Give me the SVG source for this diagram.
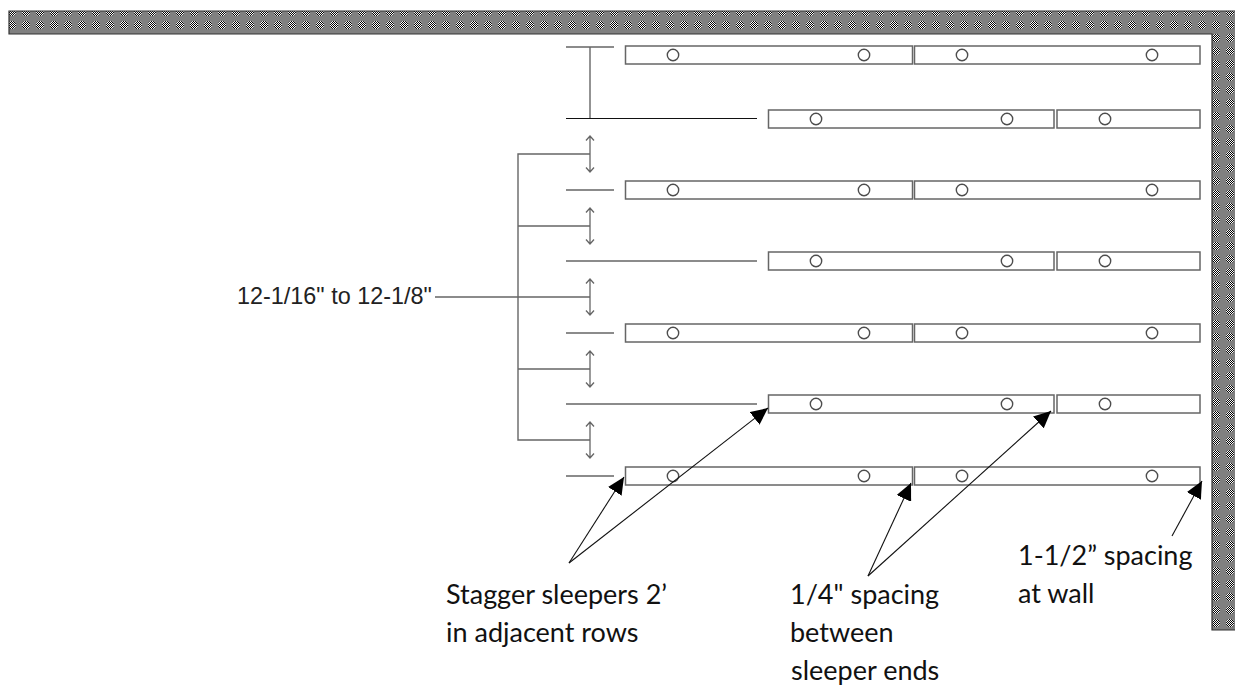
<svg xmlns="http://www.w3.org/2000/svg" width="1235" height="686" viewBox="0 0 1235 686">
<style>
.s{fill:#fff;stroke:#666;stroke-width:1.5}
.h{fill:#fff;stroke:#4d4d4d;stroke-width:1.4}
.g{fill:none;stroke:#666;stroke-width:1.4}
.k{fill:none;stroke:#111;stroke-width:1.1}
.o{fill:none;stroke:#666;stroke-width:1.3}
.c{font-family:Lato,"Open Sans",sans-serif;font-size:27px;fill:#111}
.a{font-family:"Liberation Sans",Arial,sans-serif;font-size:23.4px;fill:#222}
</style>
<defs>
<pattern id="chk" width="2" height="2" patternUnits="userSpaceOnUse"><rect width="2" height="2" fill="#000"/><rect width="1" height="1" fill="#fff"/><rect x="1" y="1" width="1" height="1" fill="#fff"/></pattern>
<pattern id="wall" x="5" y="5" width="14" height="13" patternUnits="userSpaceOnUse"><rect width="14" height="13" fill="#808080"/><circle cx="7" cy="7" r="4" fill="url(#chk)"/></pattern>
<marker id="tip" markerUnits="userSpaceOnUse" markerWidth="18" markerHeight="16" refX="17" refY="8" orient="auto"><path d="M0 0L17 8L0 16Z" fill="#000"/></marker>
<g id="dbl"><path class="o" d="M0 0V36M-4 4.500L0 0L4 4.500M-4 31.500L0 36L4 31.500"/></g>
<g id="A"><rect class="s" x="625.500" y="-9" width="287" height="18"/><rect class="s" x="914.500" y="-9" width="285.500" height="18"/><circle class="h" cx="673" r="5.700"/><circle class="h" cx="864" r="5.700"/><circle class="h" cx="962" r="5.700"/><circle class="h" cx="1152" r="5.700"/></g>
<g id="B"><rect class="s" x="768.500" y="-9" width="285.500" height="18"/><rect class="s" x="1057" y="-9" width="143" height="18"/><circle class="h" cx="816" r="5.700"/><circle class="h" cx="1007" r="5.700"/><circle class="h" cx="1105" r="5.700"/></g>
</defs>
<path id="wall-shape" d="M9 11H1236V630H1212V34H9Z" fill="url(#wall)" stroke="#333" stroke-width="1.2"/>
<g id="row1"><use href="#A" y="55"/></g>
<g id="row2"><use href="#B" y="119"/></g>
<g id="row3"><use href="#A" y="190"/></g>
<g id="row4"><use href="#B" y="261"/></g>
<g id="row5"><use href="#A" y="333"/></g>
<g id="row6"><use href="#B" y="404"/></g>
<g id="row7"><use href="#A" y="476"/></g>
<g id="connectors">
<path class="g" d="M566 47H614M590 47V118M566 190H614M566 261H757M566 333H614M566 404H757M566 476H614"/>
<path class="k" d="M566 118.500H757"/>
<path class="g" d="M590 154H518V440H590M518 226H590M435 297H590M518 369H590"/>
<use href="#dbl" x="590" y="136"/>
<use href="#dbl" x="590" y="208"/>
<use href="#dbl" x="590" y="279"/>
<use href="#dbl" x="590" y="351"/>
<use href="#dbl" x="590" y="422"/>
<path class="k" d="M569 563L624 477" marker-end="url(#tip)"/>
<path class="k" d="M569 563L768 408" marker-end="url(#tip)"/>
<path class="k" d="M868 576L911 483" marker-end="url(#tip)"/>
<path class="k" d="M868 576L1051 411" marker-end="url(#tip)"/>
<path class="k" d="M1172 536L1202 481" marker-end="url(#tip)"/>
</g>
<g id="labels">
<text class="a" x="237" y="304">12-1/16" to 12-1/8"</text>
<text class="c" x="446" y="604">Stagger sleepers 2’</text>
<text class="c" x="446" y="642">in adjacent rows</text>
<text class="c" x="790" y="604">1/4" spacing</text>
<text class="c" x="790" y="642">between</text>
<text class="c" x="791" y="680">sleeper ends</text>
<text class="c" x="1018" y="565">1-1/2” spacing</text>
<text class="c" x="1018" y="603">at wall</text>
</g>
</svg>
